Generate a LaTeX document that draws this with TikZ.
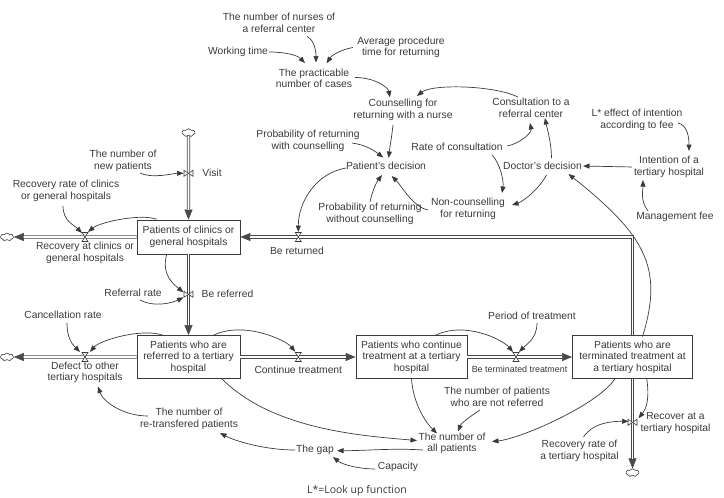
\documentclass[tikz,border=0pt]{standalone}
\usepackage{fontspec}
\setmainfont{Liberation Sans}
\newfontfamily\notefont{Open Sans}
\usetikzlibrary{arrows.meta,shapes.symbols}
\definecolor{txt}{HTML}{3A3A3A}
\definecolor{ln}{HTML}{3A3A3A}
\definecolor{pipec}{HTML}{4A4A4A}
\begin{document}
\begin{tikzpicture}[x=1pt,y=-1pt,
  every node/.style={font=\fontsize{10.3}{11.6}\selectfont, text=txt, inner sep=1pt, align=center},
  stock/.style={draw=ln, line width=0.8pt, fill=white, minimum height=34pt, inner sep=2pt},
  cloudy/.style={cloud, cloud puffs=7, cloud puff arc=120, aspect=1.7, draw=ln, line width=0.6pt, fill=white, minimum width=13pt, minimum height=8pt, inner sep=0pt},
  link/.style={draw=ln, line width=0.7pt, -{Triangle[length=6.5pt,width=5pt]}},
  pipe/.style={draw=pipec, line width=0.8pt, double=white, double distance=1.8pt, shorten >=9.8pt},
  pipetip/.style={draw=pipec, line width=0.6pt, -{Triangle[length=10pt,width=8pt]}},
  hvalve/.pic={\draw[ln, line width=0.6pt, fill=white] (-3,-4.5) -- (3,-4.5) -- (-3,4.5) -- (3,4.5) -- cycle;},
  vvalve/.pic={\draw[ln, line width=0.6pt, fill=white] (-4.5,-3) -- (-4.5,3) -- (4.5,-3) -- (4.5,3) -- cycle;},
]
\useasboundingbox (0,0) rectangle (724,498);

% ---------- stocks ----------
\node[stock, minimum width=103pt] (s1) at (188.5,237) {Patients of clinics or\\general hospitals};
\node[stock, minimum width=103pt, minimum height=43pt] (s2) at (188.5,357) {Patients who are\\referred to a tertiary\\hospital};
\node[stock, minimum width=111pt, minimum height=43pt] (s3) at (411.5,357) {Patients who continue\\treatment at a tertiary\\hospital};
\node[stock, minimum width=120pt, minimum height=43pt] (s4) at (632.5,357) {Patients who are\\terminated treatment at\\a tertiary hospital};

% ---------- clouds ----------
\node[cloudy] (cT) at (188.5,132.7) {};
\node[cloudy] (cL1) at (7,237) {};
\node[cloudy] (cL2) at (7,357) {};
\node[cloudy] (cB) at (632.5,472.7) {};

% ---------- pipes ----------
\coordinate (corner) at (632.5,237);
\draw[pipetip] (cT.south) -- (s1.north);
\draw[pipe] (cT.south) -- (s1.north);
\draw[pipetip] (s1.south) -- (s2.north);
\draw[pipe] (s1.south) -- (s2.north);
\draw[pipetip] (s1.west) -- (cL1.east);
\draw[pipe] (s1.west) -- (cL1.east);
\draw[pipetip] (s2.west) -- (cL2.east);
\draw[pipe] (s2.west) -- (cL2.east);
\draw[pipetip] (s2.east) -- (s3.west);
\draw[pipe] (s2.east) -- (s3.west);
\draw[pipetip] (s3.east) -- (s4.west);
\draw[pipe] (s3.east) -- (s4.west);
\draw[pipetip] (corner) -- (s1.east);
\draw[pipe] (s4.north) -- (corner) -- (s1.east);
\draw[pipetip] (s4.south) -- (cB.north);
\draw[pipe] (s4.south) -- (cB.north);

% ---------- valves ----------
\coordinate (vVisit) at (188.5,173.3);
\coordinate (vRef) at (188.5,294.3);
\coordinate (vRecC) at (85,237);
\coordinate (vDef) at (85,357);
\coordinate (vCont) at (298.3,357);
\coordinate (vTerm) at (516,357);
\coordinate (vRet) at (298.3,237);
\coordinate (vRecT) at (632.5,422.3);
\pic at (vVisit) {vvalve};
\pic at (vRef) {vvalve};
\pic at (vRecT) {vvalve};
\pic at (vRecC) {hvalve};
\pic at (vDef) {hvalve};
\pic at (vCont) {hvalve};
\pic at (vTerm) {hvalve};
\pic at (vRet) {hvalve};

% ---------- valve labels ----------
\node (lVisit) at (212,173) {Visit};
\node (lRef) at (227.5,294) {Be referred};
\node (lRecC) at (85,253) {Recovery at clinics or\\general hospitals};
\node (lDef) at (85,372.5) {Defect to other\\tertiary hospitals};
\node (lCont) at (298.3,369.5) {Continue treatment};
\node[font=\fontsize{8.9}{10}\selectfont] (lTerm) at (519.5,369) {Be terminated treatment};
\node (lRet) at (297,250.7) {Be returned};
\node (lRecT) at (675.5,423) {Recover at a\\tertiary hospital};

% ---------- auxiliaries ----------
\node (nurses) at (279,23) {The number of nurses of\\a referral center};
\node (work) at (238,52) {Working time};
\node (avgp) at (401,47.5) {Average procedure\\time for returning};
\node (prac) at (314,78.5) {The practicable\\number of cases};
\node (couns) at (403,110) {Counselling for\\returning with a nurse};
\node (pwc) at (308,141) {Probability of returning\\with counselling};
\node (pdec) at (386,166) {Patient's decision};
\node (rcons) at (457,147) {Rate of consultation};
\node (pwoc) at (370,214) {Probability of returning\\without counselling};
\node (noncouns) at (468,209) {Non-counselling\\for returning};
\node (consref) at (531,108) {Consultation to a\\referral center};
\node (leff) at (637,120) {L* effect of intention\\according to fee};
\node (ddec) at (542.5,166) {Doctor's decision};
\node (intent) at (669,167) {Intention of a\\tertiary hospital};
\node (mfee) at (675,217) {Management fee};
\node (newp) at (123,161) {The number of\\new patients};
\node (rrc) at (66,191) {Recovery rate of clinics\\or general hospitals};
\node (refr) at (133,293) {Referral rate};
\node (canc) at (63,315) {Cancellation rate};
\node (retr) at (189,419) {The number of\\re-transfered patients};
\node (period) at (532,316) {Period of treatment};
\node (notref) at (497,397) {The number of patients\\who are not referred};
\node (allp) at (452,443.5) {The number of\\all patients};
\node (gap) at (315,450) {The gap};
\node (cap) at (398,467) {Capacity};
\node (rrt) at (579.5,451) {Recovery rate of\\a tertiary hospital};
\node[font=\notefont\fontsize{10.5}{12}\selectfont, text=txt] (note) at (357,491) {L*=Look up function};

% ---------- information links ----------
\draw[link] ([shift={(31,0)}]work.center) .. controls +(16,0) and +(-8,-8) .. ([shift={(-9,-15.5)}]prac.center);
\draw[link] ([shift={(28,13.5)}]nurses.center) .. controls +(8,4) and +(0,-10) .. ([shift={(2,-16)}]prac.center);
\draw[link] ([shift={(-48,0)}]avgp.center) .. controls +(-12,2) and +(5,-8) .. ([shift={(12.7,-15.2)}]prac.center);
\draw[link] ([shift={(41,-1)}]prac.center) .. controls +(20,0) and +(-2,-10) .. ([shift={(-13,-12.7)}]couns.center);
\draw[link] ([shift={(-13,-11)}]consref.center) .. controls +(-25,-12) and +(15,-12) .. ([shift={(14,-14)}]couns.center);
\draw[link] ([shift={(-10,15)}]couns.center) .. controls +(-1,10) and +(1,-10) .. ([shift={(2.7,-8)}]pdec.center);
\draw[link] ([shift={(44,2)}]pwc.center) .. controls +(15,2) and +(-8,-6) .. ([shift={(-2.7,-8.5)}]pdec.center);
\draw[link] ([shift={(0,-12)}]pwoc.center) .. controls +(2,-10) and +(-6,8) .. ([shift={(-4,9)}]pdec.center);
\draw[link] ([shift={(-40,1)}]noncouns.center) .. controls +(-15,-3) and +(10,10) .. ([shift={(5.7,10)}]pdec.center);
\draw[link] ([shift={(-40,2)}]pdec.center) .. controls +(-30,5) and +(0,-30) .. ([shift={(0,-5)}]vRet);
\draw[link] ([shift={(50,-1)}]rcons.center) .. controls +(12,-2) and +(2,10) .. ([shift={(-1,15)}]consref.center);
\draw[link] ([shift={(35,8)}]rcons.center) .. controls +(8,8) and +(2,-12) .. ([shift={(34,-16)}]noncouns.center);
\draw[link] ([shift={(9,-8)}]ddec.center) .. controls +(0,-15) and +(2,10) .. ([shift={(14,10)}]consref.center);
\draw[link] ([shift={(4,9)}]ddec.center) .. controls +(-8,15) and +(10,-3) .. ([shift={(44,-4)}]noncouns.center);
\draw[link, shorten <=1pt] (intent.west) -- (ddec.east);
\draw[link] ([shift={(41,3)}]leff.center) .. controls +(10,2) and +(0,-12) .. ([shift={(20,-16)}]intent.center);
\draw[link] ([shift={(-27,-6)}]mfee.center) .. controls +(-8,-10) and +(0,10) .. ([shift={(-26,13)}]intent.center);
\draw[link] ([shift={(10,-20.5)}]s4.center) .. controls +(22,-70) and +(75,60) .. ([shift={(26,8)}]ddec.center);
\draw[link] ([shift={(-32,-17.7)}]s1.center) .. controls +(-15,-6) and +(12,-10) .. ([shift={(3,-5)}]vRecC);
\draw[link] ([shift={(-3,15)}]rrc.center) .. controls +(0,15) and +(-8,-8) .. ([shift={(-3,-4)}]vRecC);
\draw[link] ([shift={(17,12)}]newp.center) .. controls +(12,6) and +(-10,0) .. ([shift={(-5,0)}]vVisit);
\draw[link] ([shift={(-22,18)}]s1.center) .. controls +(-5,20) and +(-10,-8) .. ([shift={(-5,-2)}]vRef);
\draw[link] ([shift={(7,7)}]refr.center) .. controls +(15,8) and +(-10,5) .. ([shift={(-5,3)}]vRef);
\draw[link] ([shift={(4,8)}]canc.center) .. controls +(0,15) and +(-8,-8) .. ([shift={(-5,-5)}]vDef);
\draw[link] ([shift={(-25,-21.5)}]s2.center) .. controls +(-20,-8) and +(10,-12) .. ([shift={(5,-5)}]vDef);
\draw[link] ([shift={(-41,-3)}]retr.center) .. controls +(-25,0) and +(5,15) .. ([shift={(13,14)}]lDef.center);
\draw[link] ([shift={(24.5,-21.5)}]s2.center) .. controls +(30,-15) and +(-10,-12) .. ([shift={(-3,-5.3)}]vCont);
\draw[link] ([shift={(23.5,-21.5)}]s3.center) .. controls +(30,-15) and +(-10,-12) .. ([shift={(-3,-5)}]vTerm);
\draw[link] ([shift={(5,7)}]period.center) .. controls +(0,15) and +(8,-8) .. ([shift={(3,-5)}]vTerm);
\draw[link] ([shift={(14.2,21.5)}]s4.center) .. controls +(3,20) and +(8,-10) .. ([shift={(6,-4)}]vRecT);
\draw[link] ([shift={(4,-14)}]rrt.center) .. controls +(10,-15) and +(-15,0) .. ([shift={(-4,-1)}]vRecT);
\draw[link] ([shift={(33,21.5)}]s2.center) .. controls +(50,50) and +(-60,-5) .. ([shift={(-35,-3)}]allp.center);
\draw[link] ([shift={(0,22)}]s3.center) .. controls +(2,25) and +(-12,-12) .. ([shift={(-15,-10)}]allp.center);
\draw[link] ([shift={(-17,13)}]notref.center) .. controls +(-8,5) and +(3,-8) .. ([shift={(6,-12)}]allp.center);
\draw[link] ([shift={(-17.5,21.5)}]s4.center) .. controls +(-15,25) and +(30,-3) .. ([shift={(40,-2)}]allp.center);
\draw[link] ([shift={(-29,6.5)}]allp.center) .. controls +(-30,-2) and +(30,0) .. ([shift={(22,0.7)}]gap.center);
\draw[link] ([shift={(-23,2)}]cap.center) .. controls +(-15,0) and +(10,8) .. ([shift={(18,7)}]gap.center);
\draw[link] ([shift={(-20,0)}]gap.center) .. controls +(-30,0) and +(15,8) .. ([shift={(31,14)}]retr.center);
\end{tikzpicture}
\end{document}
